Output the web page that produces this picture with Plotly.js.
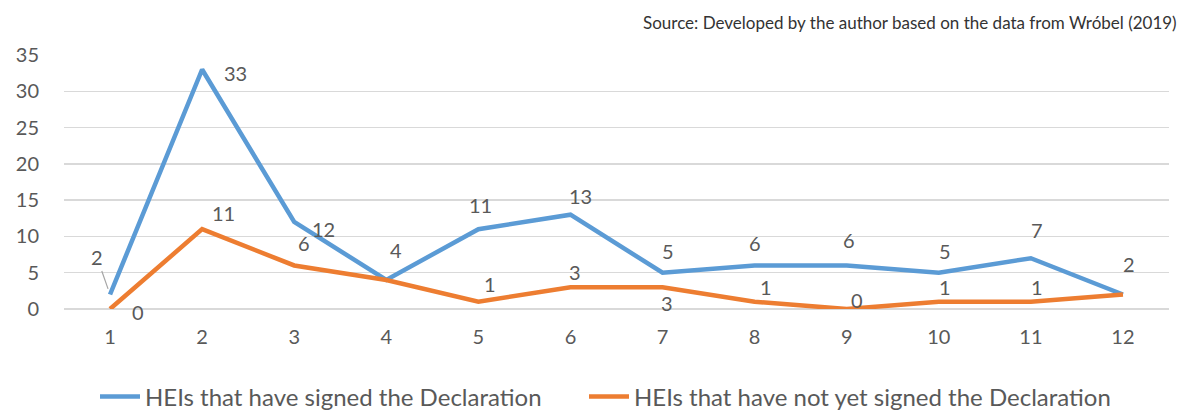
<!DOCTYPE html>
<html>
<head>
<meta charset="utf-8">
<script src="https://cdn.plot.ly/plotly-3.0.1.min.js"></script>
<style>html,body{margin:0;padding:0;background:#fff;}#chart{width:1182px;height:410px;}</style>
</head>
<body>
<div id="chart"></div>
<script>
const categories = ['1','2','3','4','5','6','7','8','9','10','11','12'];
const signed = [2, 33, 12, 4, 11, 13, 5, 6, 6, 5, 7, 2];
const notSigned = [0, 11, 6, 4, 1, 3, 3, 1, 0, 1, 1, 2];
const yTicks = [0, 5, 10, 15, 20, 25, 30, 35];
const seriesNames = ['HEIs that have signed the Declaration', 'HEIs that have not yet signed the Declaration'];
const sourceText = 'Source: Developed by the author based on the data from Wróbel (2019)';

// label offsets (px) per point: [xshift, yshift]; null = hidden
const signedOff = [[-13,37],[33,-3],[29,-7],[10,30],[2,24],[10,19],[5,22],[0,22],[2,25],[6,22],[6,28],[6,30]];
const notSignedOff = [[28,-3],[21,16],[10,22],null,[12,18],[5,15],[4,-16],[11,15],[10,9],[6,15],[6,15],null];

const FONT = 'Lato, "Open Sans", sans-serif';
const TXT = '#595959';
const BLUE = '#5B9BD5', ORANGE = '#ED7D31';

const annotations = [];
function addLabels(vals, offs) {
  vals.forEach((v, i) => {
    const o = offs[i];
    if (!o) return;
    annotations.push({
      x: i, y: v, xref: 'x', yref: 'y', text: String(v),
      showarrow: false, xshift: o[0], yshift: o[1],
      font: {family: FONT, size: 20, color: TXT}
    });
  });
}
addLabels(signed, signedOff);
addLabels(notSigned, notSignedOff);
// leader line for first blue label
annotations[0].showarrow = true;
annotations[0].ax = -13; annotations[0].ay = -37;
annotations[0].xshift = 0; annotations[0].yshift = 0;
annotations[0].arrowhead = 0; annotations[0].arrowwidth = 1.2;
annotations[0].arrowcolor = '#A6A6A6'; annotations[0].standoff = 6;

annotations.push({
  xref: 'paper', yref: 'paper', x: 0, y: (309 - 22) / 254, xanchor: 'left', yanchor: 'middle',
  xshift: 641 - 64, text: sourceText, showarrow: false,
  font: {family: FONT, size: 17, color: '#333333'}
});

const traces = [
  {x: categories, y: signed, name: seriesNames[0], type: 'scatter', mode: 'lines',
   line: {color: BLUE, width: 4.5}, legend: 'legend'},
  {x: categories, y: notSigned, name: seriesNames[1], type: 'scatter', mode: 'lines',
   line: {color: ORANGE, width: 4.5}, legend: 'legend2'}
];

const legendBase = {orientation: 'h', xanchor: 'left', y: 13/410, yref: 'container', yanchor: 'middle',
  font: {family: FONT, size: 24, color: TXT}, itemwidth: 40, bgcolor: 'rgba(0,0,0,0)'};

const layout = {
  width: 1182, height: 410,
  margin: {l: 64, r: 13, t: 55, b: 101},
  paper_bgcolor: '#fff', plot_bgcolor: '#fff',
  showlegend: true,
  legend: Object.assign({}, legendBase, {x: 31/1105}),
  legend2: Object.assign({}, legendBase, {x: (584 - 64)/1105}),
  xaxis: {type: 'category', range: [-0.5, 11.5], showgrid: false, zeroline: false, showline: false,
    ticks: '', tickfont: {family: FONT, size: 20, color: TXT}, ticklabelstandoff: 14, fixedrange: true},
  yaxis: {range: [0, 35], tickvals: yTicks, showgrid: true, gridcolor: '#D9D9D9', gridwidth: 1.5,
    zeroline: true, zerolinecolor: '#D9D9D9', zerolinewidth: 1.5, showline: false, ticks: '',
    tickfont: {family: FONT, size: 20, color: TXT}, ticklabelstandoff: 24, fixedrange: true},
  annotations: annotations
};

Plotly.newPlot('chart', traces, layout, {displayModeBar: false, staticPlot: true});
</script>
</body>
</html>
